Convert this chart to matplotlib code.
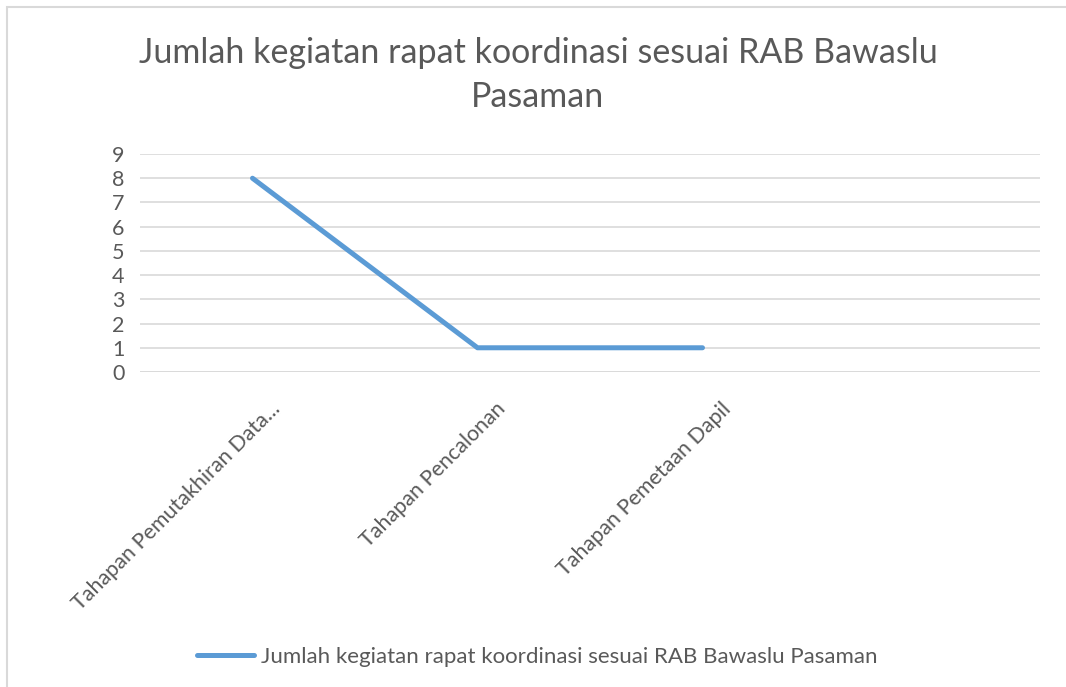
import matplotlib.pyplot as plt
import matplotlib.transforms as mtransforms
from matplotlib.patches import Rectangle

categories = ["Tahapan Pemutakhiran Data...", "Tahapan Pencalonan", "Tahapan Pemetaan Dapil", ""]
values = [8, 1, 1]
series_name = "Jumlah kegiatan rapat koordinasi sesuai RAB Bawaslu Pasaman"
title = "Jumlah kegiatan rapat koordinasi sesuai RAB Bawaslu\nPasaman"

text_color = "#595959"
grid_color = "#d9d9d9"
line_color = "#5b9bd5"

plt.rcParams['font.family'] = ['Lato', 'DejaVu Sans']

fig = plt.figure(figsize=(10.66, 6.87), dpi=100)
W, H = 1066, 687

# chart border
fig.patches.append(Rectangle((7 / W, -0.01), 1.02, 1 - 7 / H + 0.01, transform=fig.transFigure,
                             fill=False, edgecolor=grid_color, linewidth=1.5))

ax = fig.add_axes([140 / W, 1 - 372 / H, 900 / W, 218 / H])
x = list(range(len(categories)))
ax.plot(x[:len(values)], values, color=line_color, linewidth=3.6, solid_capstyle='round',
        label=series_name)

ax.set_xlim(-0.5, len(categories) - 0.5)
ax.set_ylim(0, 9)
ax.set_yticks(range(0, 10))
ax.yaxis.grid(True, color=grid_color, linewidth=1.2)
ax.set_axisbelow(True)
for s in ax.spines.values():
    s.set_visible(False)
ax.axhline(0, color=grid_color, linewidth=1.2, zorder=0)
ax.tick_params(axis='both', length=0, labelsize=15.5, labelcolor=text_color)
ax.tick_params(axis='y', pad=11)

ax.set_xticks(x)
ax.set_xticklabels(categories, rotation=45, ha='right', rotation_mode='anchor')
offset = mtransforms.ScaledTranslation(18 / 100, -22 / 100, fig.dpi_scale_trans)
for lbl in ax.get_xticklabels():
    lbl.set_transform(lbl.get_transform() + offset)

fig.text(538 / W, 1 - 75 / H, title, ha='center', va='center', fontsize=24.5,
         color=text_color, linespacing=1.45)

leg = fig.legend(loc='center', bbox_to_anchor=(537 / W, 1 - 657 / H), frameon=False,
                 fontsize=16, handlelength=2.6, handletextpad=0.3)
for t in leg.get_texts():
    t.set_color(text_color)

fig.savefig("out.png", dpi=100, facecolor="white")
